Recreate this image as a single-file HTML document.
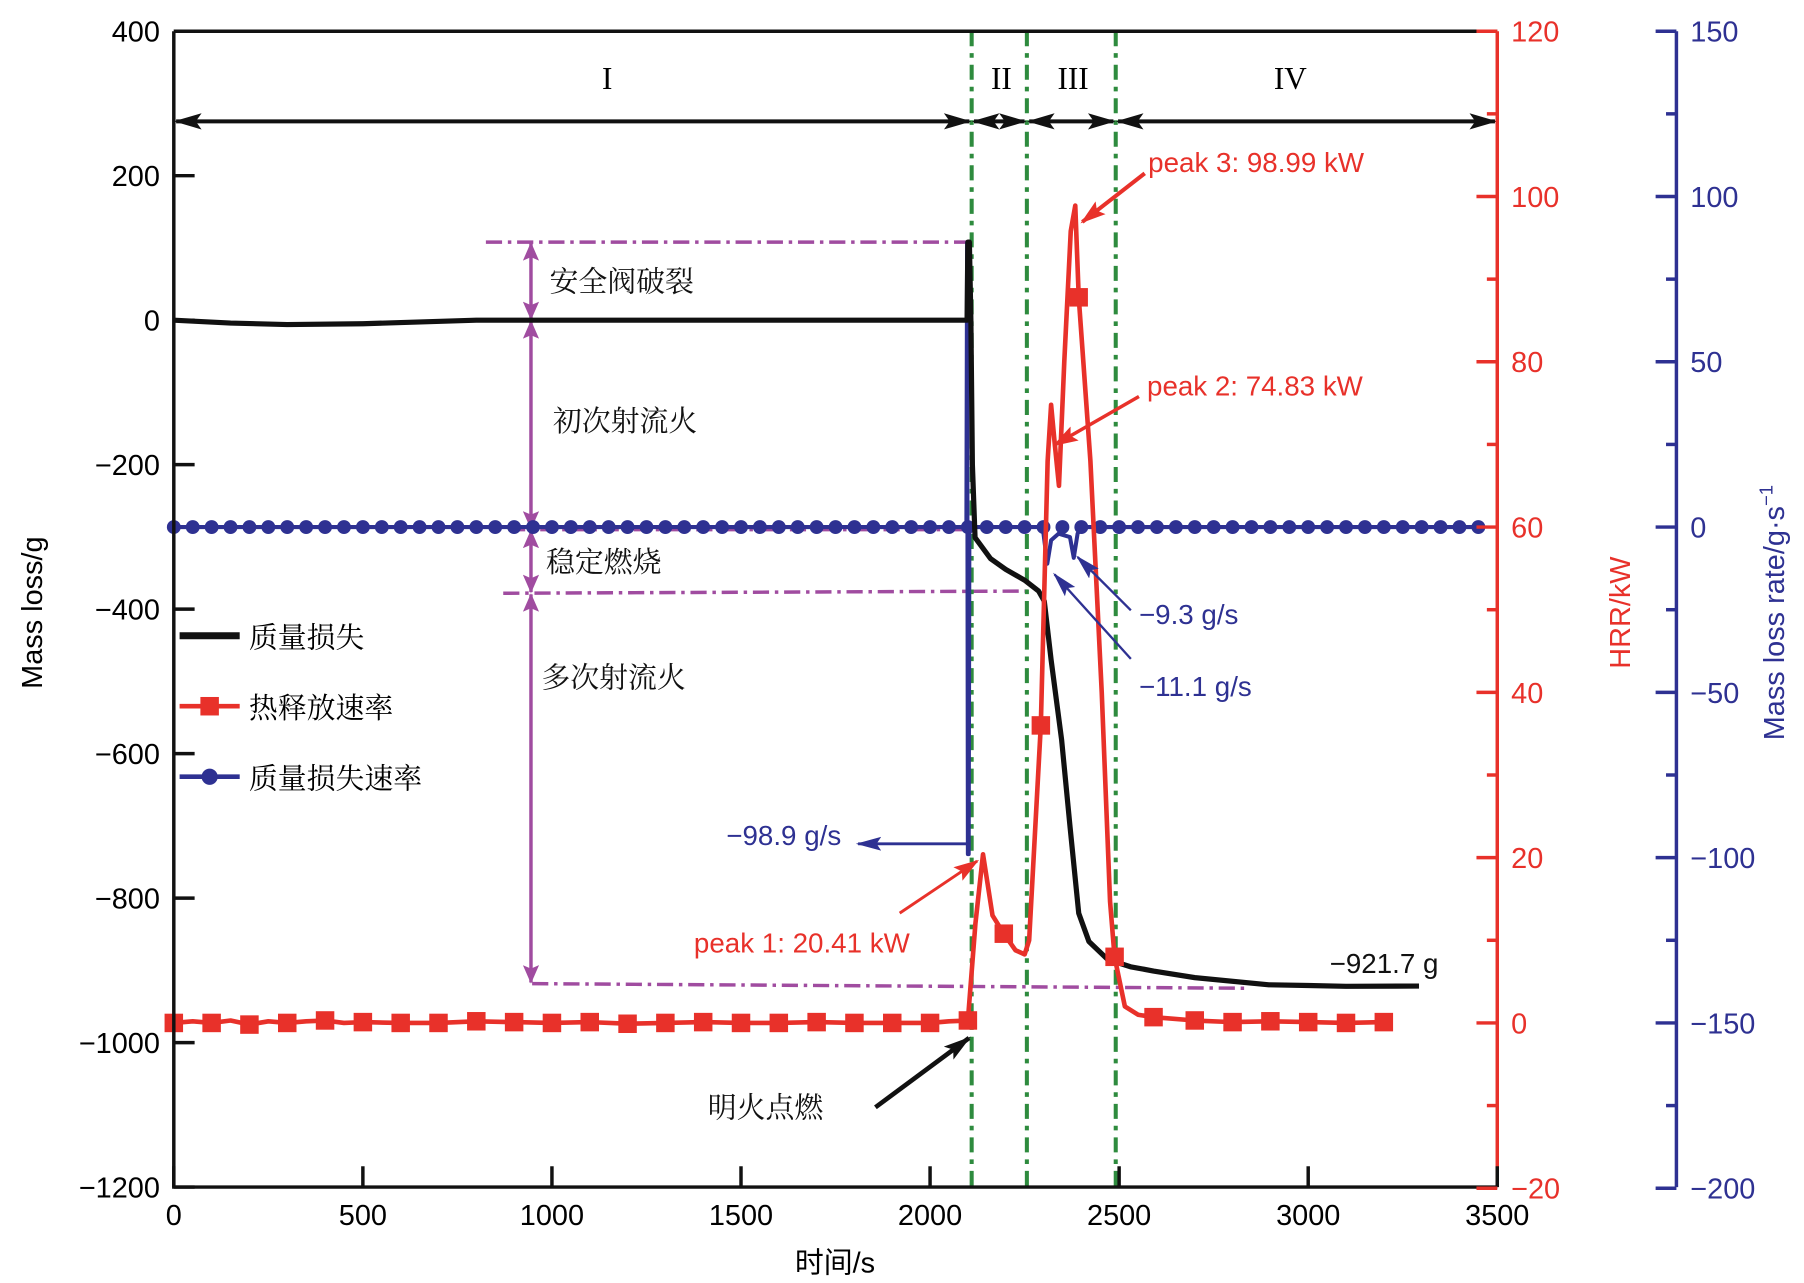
<!DOCTYPE html>
<html><head><meta charset="utf-8">
<style>
html,body{margin:0;padding:0;background:#fff;}
svg{display:block;}
text{font-family:"Liberation Sans","Noto Sans CJK SC",sans-serif;}
.cn{font-family:"Liberation Serif","Noto Serif CJK SC","Noto Sans CJK SC",serif;}
.rom{font-family:"Liberation Serif",serif;}
</style></head>
<body>
<svg id="chart" width="1804" height="1283" viewBox="0 0 1560 1110" xmlns="http://www.w3.org/2000/svg">
<defs>
<marker id="ab2" markerWidth="24" markerHeight="16" refX="22" refY="8" orient="auto-start-reverse" markerUnits="userSpaceOnUse"><path d="M0,1 L24,8 L0,15 L5,8 z" fill="#111"/></marker>
<marker id="ar" markerWidth="22" markerHeight="16" refX="20" refY="8" orient="auto" markerUnits="userSpaceOnUse"><path d="M0,1 L22,8 L0,15 L4,8 z" fill="#e8312a"/></marker>
<marker id="abl" markerWidth="22" markerHeight="14" refX="20" refY="7" orient="auto" markerUnits="userSpaceOnUse"><path d="M0,1 L22,7 L0,13 L4,7 z" fill="#2e3192"/></marker>
<marker id="ap" markerWidth="16" markerHeight="14" refX="15" refY="7" orient="auto-start-reverse" markerUnits="userSpaceOnUse"><path d="M0,0 L16,7 L0,14 L3,7 z" fill="#a04ca0"/></marker>
</defs>
<g id="plot"></g>
</svg>
<script>
// ---- data ----
const massT = [0,150,300,500,800,1000,1500,2000,2098,2100,2104,2108,2112,2119,2160,2200,2250,2287,2302,2320,2348,2370,2393,2420,2470,2530,2591,2700,2896,3000,3100,3293];
const massV = [0,-4,-6,-5,0,0,0,0,0,108,108,0,-200,-301,-330,-345,-360,-375,-389,-470,-581,-700,-821,-860,-885,-895,-901,-910,-920,-921,-922,-921.7];
const hrrT = [0,50,100,150,200,250,300,350,400,450,500,600,700,800,900,1000,1100,1200,1300,1400,1500,1600,1700,1800,1900,2000,2050,2100,2120,2140,2165,2195,2226,2250,2262,2293,2311,2320,2330,2341,2355,2372,2384,2393,2424,2454,2476,2488,2515,2550,2591,2700,2800,2900,3000,3100,3200,3220];
const hrrV = [0,0.2,0,0.3,-0.2,0.2,0,0.2,0.3,0,0.1,0,0,0.2,0.1,0,0.1,-0.1,0,0.1,0,0,0.1,0,0,0,0.2,0.3,12,20.4,13,10.8,8.8,8.3,10,36,68,74.8,70,65,80,95.8,98.9,87.8,68,40,14.7,8,2,1,0.7,0.3,0.1,0.2,0.1,0,0.1,0];
const hrrSqT = [0,100,200,300,400,500,600,700,800,900,1000,1100,1200,1300,1400,1500,1600,1700,1800,1900,2000,2100,2195,2293,2393,2488,2591,2700,2800,2900,3000,3100,3200];
const rateEvT = [2096,2098,2100,2102,2104,2296,2300,2310,2320,2340,2370,2380,2390,2400];
const rateEvV = [0,86,-98.9,-98.9,0,0,-2,-11.1,-4,-2,-3,-9.3,-2,0];
const xTicks = [0,500,1000,1500,2000,2500,3000,3500];
const massTicks = [400,200,0,-200,-400,-600,-800,-1000,-1200];
const hrrTicks = [120,100,80,60,40,20,0,-20];
const rateTicks = [150,100,50,0,-50,-100,-150,-200];
const phaseT = [2110,2256,2491];

// ---- scales ----
const X0=150,X1=1295,Y0=27,Y1=1027;
const x=t=>X0+t*(X1-X0)/3500;
const yM=m=>277-m*125/200;
const yH=h=>885-h*143/20;
const yR=r=>456-r*143/50;
const NS="http://www.w3.org/2000/svg";
const g=document.getElementById('plot');
function mk(tag,at,parent){const e=document.createElementNS(NS,tag);for(const k in at)e.setAttribute(k,at[k]);(parent||g).appendChild(e);return e;}
function txt(s,at,parent){const e=mk('text',at,parent);e.textContent=s;return e;}
const RED="#e8312a",BLUE="#2e3192",PUR="#a04ca0",GRN="#2e8b3e";

let e;
e=mk('line',{x1:420,y1:yM(108),x2:840,y2:yM(108),stroke:PUR,'stroke-width':3,'stroke-dasharray':'14 5 3 5'});

e=mk('line',{x1:420,y1:yM(0),x2:840,y2:yM(0),stroke:PUR,'stroke-width':3,'stroke-dasharray':'14 5 3 5'});

e=mk('line',{x1:440,y1:yM(-290),x2:840,y2:yM(-290),stroke:PUR,'stroke-width':3,'stroke-dasharray':'14 5 3 5'});

e=mk('line',{x1:435,y1:yM(-378),x2:890,y2:yM(-375),stroke:PUR,'stroke-width':3,'stroke-dasharray':'14 5 3 5'});

e=mk('line',{x1:460,y1:851,x2:1080,y2:855,stroke:PUR,'stroke-width':3,'stroke-dasharray':'14 5 3 5'});

const segs=[[yM(108),yM(0)],[yM(0),yM(-290)],[yM(-290),yM(-378)],[yM(-378),851]];
segs.forEach((s,i)=>{const l=mk('line',{x1:459,y1:s[0]+1,x2:459,y2:s[1]-1,stroke:PUR,'stroke-width':3,'marker-start':'url(#ap)','marker-end':'url(#ap)'});

});

phaseT.forEach(t=>{const l=mk('line',{x1:x(t),y1:Y0,x2:x(t),y2:Y1,stroke:GRN,'stroke-width':3.5,'stroke-dasharray':'13 6 4 6'});

});

const bounds=[0,...phaseT,3500];
for(let i=0;i<4;i++){const l=mk('line',{x1:x(bounds[i])+2,y1:105,x2:x(bounds[i+1])-2,y2:105,stroke:'#111','stroke-width':3.5,'marker-start':'url(#ab2)','marker-end':'url(#ab2)'});

}
const roman=['I','II','III','IV'];const rx=[525,866,928,1116];
roman.forEach((r,i)=>{const t=txt(r,{x:rx[i],y:77,'font-size':27,'text-anchor':'middle',class:'rom'});

});

// blue rate series
const all=[];
for(let t=0;t<=3450;t+=10){if(t<2096||t>2400)all.push([t,0]);}
rateEvT.forEach((t,i)=>all.push([t,rateEvV[i]]));
all.sort((a,b)=>a[0]-b[0]);
let d=all.map((p,i)=>(i?'L':'M')+x(p[0]).toFixed(1)+','+yR(p[1]).toFixed(1)).join('');
e=mk('path',{d:d,fill:'none',stroke:BLUE,'stroke-width':3.5,'stroke-linejoin':'round'});

for(let t=0;t<=3450;t+=50){const c=mk('circle',{cx:x(t),cy:yR(0),r:6,fill:BLUE});

}

d=massT.map((t,i)=>(i?'L':'M')+x(t).toFixed(1)+','+yM(massV[i]).toFixed(1)).join('');
e=mk('path',{d:d,fill:'none',stroke:'#111','stroke-width':4.5,'stroke-linejoin':'round'});


d=hrrT.map((t,i)=>(i?'L':'M')+x(t).toFixed(1)+','+yH(hrrV[i]).toFixed(1)).join('');
e=mk('path',{d:d,fill:'none',stroke:RED,'stroke-width':4,'stroke-linejoin':'round'});

function interpH(t){for(let i=1;i<hrrT.length;i++){if(t<=hrrT[i]){const a=hrrT[i-1],b=hrrT[i];return hrrV[i-1]+(hrrV[i]-hrrV[i-1])*(t-a)/(b-a);}}return 0;}
hrrSqT.forEach(t=>{const r=mk('rect',{x:x(t)-8,y:yH(interpH(t))-8,width:16,height:16,fill:RED});

});

e=mk('path',{d:`M${X0},${Y0}L${X1},${Y0}M${X0},${Y0}L${X0},${Y1}L${X1},${Y1}`,fill:'none',stroke:'#111','stroke-width':3});

e=mk('line',{x1:X1,y1:Y0,x2:X1,y2:Y1,stroke:RED,'stroke-width':3});

e=mk('line',{x1:1450,y1:Y0,x2:1450,y2:Y1,stroke:BLUE,'stroke-width':3});


xTicks.forEach(v=>{mk('line',{x1:x(v),y1:Y1,x2:x(v),y2:Y1-18,stroke:'#111','stroke-width':3});
const t=txt(String(v),{x:x(v),y:1060,'font-size':25,'text-anchor':'middle'});

});
massTicks.forEach(v=>{mk('line',{x1:X0,y1:yM(v),x2:X0+18,y2:yM(v),stroke:'#111','stroke-width':3});
const t=txt(v<0?'\u2212'+(-v):String(v),{x:138,y:yM(v)+9,'font-size':25,'text-anchor':'end'});

});
hrrTicks.forEach((v,i)=>{mk('line',{x1:X1,y1:yH(v),x2:X1-18,y2:yH(v),stroke:RED,'stroke-width':3});
if(i<hrrTicks.length-1)mk('line',{x1:X1,y1:yH(v-10),x2:X1-9,y2:yH(v-10),stroke:RED,'stroke-width':3});
const t=txt(v<0?'\u2212'+(-v):String(v),{x:1307,y:yH(v)+9,'font-size':25,fill:RED});

});
rateTicks.forEach((v,i)=>{mk('line',{x1:1450,y1:yR(v),x2:1432,y2:yR(v),stroke:BLUE,'stroke-width':3});
if(i<rateTicks.length-1)mk('line',{x1:1450,y1:yR(v-25),x2:1441,y2:yR(v-25),stroke:BLUE,'stroke-width':3});
const t=txt(v<0?'\u2212'+(-v):String(v),{x:1462,y:yR(v)+9,'font-size':25,fill:BLUE});

});

e=txt('时间/s',{x:722,y:1101,'font-size':25,'text-anchor':'middle'});

e=txt('Mass loss/g',{x:0,y:0,'font-size':25,'text-anchor':'middle',transform:'translate(36,530) rotate(-90)'});

e=txt('HRR/kW',{x:0,y:0,'font-size':25,fill:RED,'text-anchor':'middle',transform:'translate(1410,530) rotate(-90)'});

e=mk('text',{x:0,y:0,'font-size':25,fill:BLUE,'text-anchor':'middle',transform:'translate(1543,530) rotate(-90)'});
e.innerHTML='Mass loss rate/g·s<tspan dy="-10" font-size="16">−1</tspan>';


const leg=[['质量损失','#111','line'],['热释放速率',RED,'sq'],['质量损失速率',BLUE,'dot']];
leg.forEach((l,i)=>{const yy=550+i*61;const gg=mk('g',{});


mk('line',{x1:155,y1:yy,x2:207,y2:yy,stroke:l[1],'stroke-width':l[2]=='line'?6:4},gg);
if(l[2]=='sq')mk('rect',{x:173,y:yy-8,width:16,height:16,fill:l[1]},gg);
if(l[2]=='dot')mk('circle',{cx:181,cy:yy,r:7,fill:l[1]},gg);
txt(l[0],{x:215,y:yy+10,'font-size':25,class:'cn'},gg);});

const ann=[['安全阀破裂',475,252,'#111'],['初次射流火',478,373,'#111'],['稳定燃烧',472,495,'#111'],['多次射流火',468,595,'#111'],['明火点燃',612,967,'#111']];
ann.forEach(a=>{const t=txt(a[0],{x:a[1],y:a[2],'font-size':25,fill:a[3],class:'cn'});

});
const ann2=[['peak 3: 98.99 kW',993,149,RED],['peak 2: 74.83 kW',992,342,RED],['peak 1: 20.41 kW',600,824,RED],['\u221298.9 g/s',628,731,BLUE],['\u22129.3 g/s',985,540,BLUE],['\u221211.1 g/s',985,602,BLUE],['\u2212921.7 g',1150,842,'#111']];
ann2.forEach(a=>{const t=txt(a[0],{x:a[1],y:a[2],'font-size':24,fill:a[3]});

});
const arrows=[[990,150,936,192,RED,'ar',3.5],[985,343,912,385,RED,'ar',3],[778,790,845,745,RED,'ar',2.5],[836,730,742,730,BLUE,'abl',2.5],[978,528,932,482,BLUE,'abl',2],[978,570,912,497,BLUE,'abl',2],[757,958,838,898,'#111','ab2',4]];
arrows.forEach(a=>{const l=mk('line',{x1:a[0],y1:a[1],x2:a[2],y2:a[3],stroke:a[4],'stroke-width':a[6],'marker-end':'url(#'+a[5]+')'});

});
</script>
</body></html>
